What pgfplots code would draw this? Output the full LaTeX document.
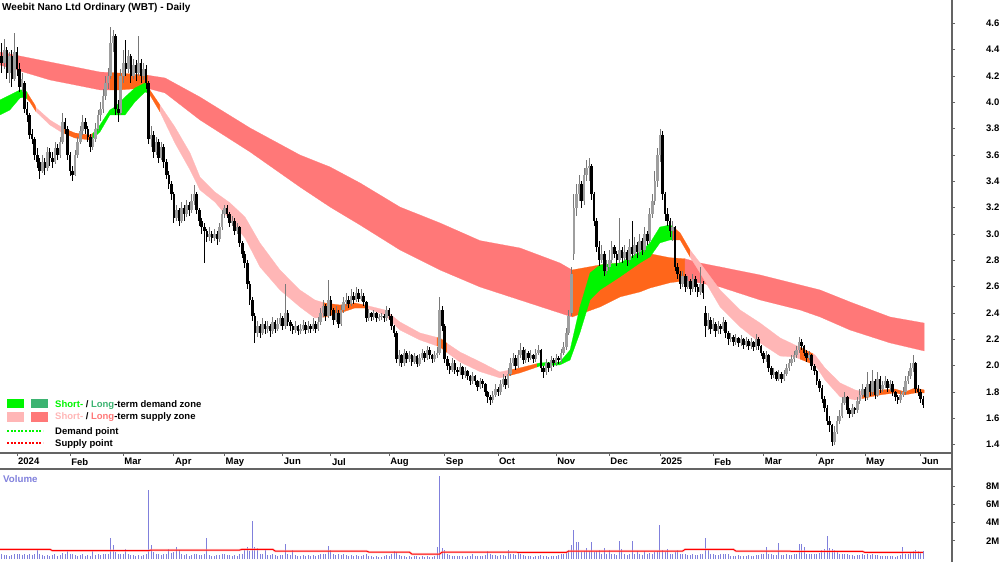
\documentclass[border=0pt]{standalone}
\usepackage{pgfplots}
\pgfplotsset{compat=1.18}
\usepackage{pgfplotstable}
\usepackage{fontspec}
\setmainfont{Liberation Sans}
\definecolor{salmon}{RGB}{255,120,120}
\definecolor{pinkst}{RGB}{255,182,182}
\definecolor{orz}{RGB}{255,102,26}
\definecolor{grz}{RGB}{0,245,0}
\definecolor{dgz}{RGB}{60,179,113}
\definecolor{volc}{RGB}{128,128,220}
\definecolor{axc}{RGB}{100,100,100}
\definecolor{upc}{RGB}{158,158,158}
\definecolor{upw}{RGB}{120,120,120}
\newcommand{\tf}{\fontsize{9.5}{11}\selectfont\bfseries}
\pgfplotsset{zone/.style={fill=#1, draw=#1, line width=0.2pt, mark=none}}
\pgfplotstableread{
i o h l c v
-6 4.35 4.45 4.22 4.30 0.5
-5 4.30 4.48 4.25 4.40 0.4
-4 4.40 4.42 4.18 4.22 0.4
-3 4.22 4.38 4.15 4.35 0.3
-2 4.35 4.40 4.12 4.18 0.4
-1 4.18 4.53 4.16 4.38 0.5
0 4.38 4.42 4.20 4.25 0.6
1 4.25 4.30 4.08 4.12 0.5
2 4.12 4.22 4.08 4.18 0.4
3 4.15 4.16 3.92 3.95 0.5
4 3.95 4.00 3.85 3.90 0.4
5 3.90 3.92 3.72 3.75 0.6
6 3.76 3.80 3.68 3.72 0.4
7 3.72 3.74 3.56 3.60 0.5
8 3.60 3.65 3.50 3.55 1.0
9 3.55 3.58 3.42 3.48 0.6
10 3.48 3.60 3.46 3.55 0.4
11 3.55 3.58 3.45 3.50 0.3
12 3.50 3.66 3.48 3.62 0.4
13 3.62 3.65 3.52 3.58 0.3
14 3.58 3.62 3.50 3.55 0.4
15 3.55 3.70 3.53 3.65 0.5
16 3.65 3.68 3.56 3.60 0.3
17 3.60 3.74 3.58 3.70 0.4
18 3.70 3.92 3.68 3.85 0.7
19 3.85 3.88 3.76 3.80 0.5
20 3.80 3.82 3.56 3.60 1.0
21 3.60 3.62 3.44 3.48 0.6
22 3.48 3.52 3.40 3.45 0.5
23 3.45 3.64 3.44 3.60 0.4
24 3.60 3.74 3.58 3.70 0.3
25 3.70 3.82 3.68 3.78 0.4
26 3.78 3.90 3.75 3.85 0.5
27 3.85 3.88 3.76 3.80 0.3
28 3.80 3.82 3.70 3.74 0.4
29 3.74 3.76 3.62 3.66 0.3
30 3.66 3.76 3.64 3.72 1.0
31 3.72 3.84 3.70 3.80 0.4
32 3.80 3.94 3.78 3.90 0.5
33 3.90 4.00 3.86 3.95 0.4
34 3.95 4.10 3.92 4.05 0.6
35 4.05 4.20 4.02 4.15 0.5
36 4.15 4.26 4.10 4.20 0.6
37 4.20 4.57 4.18 4.45 2.3
38 4.45 4.55 4.38 4.50 1.5
39 4.50 4.52 3.90 3.95 0.8
40 3.95 4.02 3.85 3.92 0.5
41 3.92 4.25 3.90 4.20 0.6
42 4.20 4.40 4.15 4.30 0.5
43 4.30 4.47 4.20 4.25 1.1
44 4.25 4.40 4.22 4.35 0.5
45 4.35 4.37 4.15 4.20 0.4
46 4.20 4.33 4.18 4.28 0.4
47 4.28 4.32 4.16 4.22 0.3
48 4.22 4.50 4.20 4.30 0.4
49 4.30 4.33 4.15 4.20 0.3
50 4.20 4.30 4.17 4.25 0.4
51 4.25 4.28 4.10 4.15 0.5
52 4.15 4.16 3.68 3.72 7.6
53 3.72 3.82 3.66 3.75 1.5
54 3.75 3.78 3.58 3.62 0.8
55 3.62 3.74 3.60 3.70 0.5
56 3.70 3.72 3.54 3.58 0.6
57 3.58 3.70 3.56 3.66 0.4
58 3.66 3.68 3.50 3.55 0.5
59 3.55 3.57 3.42 3.45 0.6
60 3.45 3.48 3.34 3.38 1.1
61 3.38 3.40 3.26 3.30 0.7
62 3.30 3.32 3.08 3.12 0.8
63 3.12 3.22 3.10 3.18 1.3
64 3.18 3.20 3.06 3.10 1.0
65 3.10 3.24 3.08 3.20 0.5
66 3.20 3.22 3.10 3.15 0.4
67 3.15 3.26 3.13 3.22 0.5
68 3.22 3.24 3.14 3.18 0.3
69 3.18 3.30 3.16 3.25 0.4
70 3.25 3.37 3.22 3.30 0.6
71 3.30 3.32 3.15 3.18 0.5
72 3.18 3.20 3.06 3.10 0.4
73 3.10 3.12 3.00 3.05 0.4
74 3.05 3.08 2.78 3.02 0.6
75 3.02 3.04 2.94 2.98 2.3
76 2.98 3.05 2.95 3.00 0.4
77 3.00 3.02 2.93 2.97 0.3
78 2.97 3.04 2.95 3.00 0.3
79 3.00 3.02 2.92 2.96 0.4
80 2.96 3.08 2.94 3.05 0.4
81 3.05 3.18 3.03 3.15 0.5
82 3.15 3.22 3.12 3.20 0.5
83 3.20 3.22 3.12 3.15 0.4
84 3.15 3.17 3.05 3.08 0.4
85 3.08 3.14 3.06 3.10 0.3
86 3.10 3.12 2.99 3.02 0.4
87 3.02 3.08 3.00 3.05 0.3
88 3.05 3.06 2.90 2.93 0.5
89 2.93 2.95 2.82 2.85 0.6
90 2.85 2.87 2.74 2.78 1.1
91 2.78 2.80 2.58 2.62 1.3
92 2.62 2.64 2.46 2.50 0.9
93 2.50 2.52 2.34 2.38 4.2
94 2.38 2.40 2.17 2.25 1.3
95 2.25 2.34 2.22 2.30 1.2
96 2.30 2.32 2.21 2.25 0.6
97 2.25 2.36 2.23 2.32 0.5
98 2.32 2.34 2.24 2.28 1.0
99 2.28 2.34 2.25 2.30 0.4
100 2.30 2.32 2.22 2.26 0.4
101 2.26 2.37 2.24 2.33 0.5
102 2.33 2.35 2.25 2.28 0.4
103 2.28 2.36 2.26 2.32 0.3
104 2.32 2.40 2.30 2.36 0.4
105 2.36 2.38 2.27 2.30 0.4
106 2.30 2.62 2.28 2.40 1.7
107 2.40 2.42 2.30 2.33 0.5
108 2.33 2.35 2.26 2.30 0.4
109 2.30 2.32 2.24 2.27 1.0
110 2.27 2.34 2.25 2.30 0.4
111 2.30 2.31 2.23 2.26 0.3
112 2.26 2.32 2.24 2.28 0.3
113 2.28 2.35 2.26 2.31 0.4
114 2.31 2.33 2.24 2.27 0.3
115 2.27 2.34 2.25 2.30 0.4
116 2.30 2.32 2.25 2.28 0.3
117 2.28 2.36 2.26 2.32 0.4
118 2.32 2.34 2.25 2.28 0.3
119 2.28 2.37 2.26 2.33 0.4
120 2.33 2.44 2.31 2.40 0.5
121 2.40 2.50 2.37 2.45 0.6
122 2.45 2.47 2.34 2.38 0.5
123 2.38 2.65 2.36 2.50 1.4
124 2.50 2.53 2.38 2.42 1.0
125 2.42 2.44 2.31 2.35 0.5
126 2.35 2.45 2.33 2.40 0.4
127 2.40 2.42 2.29 2.32 0.5
128 2.32 2.46 2.30 2.42 0.4
129 2.42 2.52 2.40 2.48 0.5
130 2.48 2.55 2.45 2.50 0.4
131 2.50 2.53 2.44 2.47 0.3
132 2.47 2.58 2.45 2.53 0.4
133 2.53 2.56 2.47 2.50 0.3
134 2.50 2.60 2.48 2.55 0.4
135 2.55 2.58 2.48 2.51 0.3
136 2.51 2.58 2.49 2.53 0.3
137 2.53 2.55 2.45 2.48 0.4
138 2.48 2.49 2.33 2.36 0.6
139 2.36 2.43 2.34 2.40 0.3
140 2.40 2.41 2.34 2.37 0.3
141 2.37 2.42 2.35 2.40 0.2
142 2.40 2.41 2.33 2.36 0.3
143 2.36 2.39 2.34 2.37 0.2
144 2.37 2.40 2.35 2.38 0.2
145 2.38 2.39 2.33 2.36 0.3
146 2.36 2.45 2.34 2.42 0.4
147 2.42 2.44 2.35 2.38 0.3
148 2.38 2.39 2.27 2.30 0.5
149 2.30 2.31 2.22 2.25 0.9
150 2.25 2.26 2.02 2.05 0.8
151 2.05 2.12 2.00 2.08 0.4
152 2.08 2.09 1.99 2.02 0.3
153 2.02 2.13 2.00 2.10 0.3
154 2.10 2.11 2.02 2.05 0.2
155 2.05 2.11 2.03 2.08 0.3
156 2.08 2.09 2.00 2.03 0.2
157 2.03 2.10 2.01 2.07 0.3
158 2.07 2.08 1.99 2.01 0.3
159 2.01 2.09 2.00 2.06 0.2
160 2.06 2.13 2.04 2.10 0.3
161 2.10 2.11 2.03 2.06 0.2
162 2.06 2.15 2.04 2.12 0.3
163 2.12 2.14 2.05 2.08 0.2
164 2.08 2.09 2.02 2.05 0.2
165 2.05 2.11 2.03 2.08 0.3
166 2.08 2.14 2.06 2.10 1.3
167 2.10 2.52 2.08 2.42 9.1
168 2.42 2.45 2.26 2.30 1.2
169 2.30 2.32 2.02 2.05 1.0
170 2.05 2.07 1.97 2.00 0.5
171 2.00 2.02 1.94 1.97 0.4
172 1.97 2.06 1.95 2.02 0.3
173 2.02 2.04 1.94 1.97 0.3
174 1.97 1.99 1.92 1.95 0.3
175 1.95 2.02 1.93 1.99 0.3
176 1.99 2.00 1.90 1.93 0.3
177 1.93 1.99 1.91 1.96 0.2
178 1.96 1.97 1.89 1.92 0.3
179 1.92 1.93 1.85 1.88 0.3
180 1.88 1.95 1.86 1.92 0.5
181 1.92 1.93 1.85 1.88 0.3
182 1.88 1.89 1.81 1.84 0.3
183 1.84 1.91 1.82 1.88 0.3
184 1.88 1.90 1.83 1.86 0.3
185 1.86 1.87 1.77 1.80 0.4
186 1.80 1.81 1.72 1.76 0.9
187 1.76 1.78 1.70 1.74 0.5
188 1.74 1.81 1.72 1.78 0.4
189 1.78 1.86 1.76 1.82 0.4
190 1.82 1.84 1.77 1.80 0.3
191 1.80 1.89 1.78 1.86 0.4
192 1.86 1.94 1.84 1.90 0.4
193 1.90 1.92 1.82 1.85 0.3
194 1.85 1.98 1.83 1.94 1.0
195 1.94 2.06 1.92 2.02 0.6
196 2.02 2.10 2.00 2.06 0.5
197 2.06 2.08 1.97 2.00 0.4
198 2.00 2.12 1.98 2.08 0.8
199 2.08 2.17 2.06 2.12 0.5
200 2.12 2.14 2.01 2.04 0.4
201 2.04 2.13 2.02 2.10 0.3
202 2.10 2.11 2.03 2.06 0.3
203 2.06 2.12 2.04 2.08 0.3
204 2.08 2.09 2.02 2.05 0.2
205 2.05 2.13 2.03 2.10 0.3
206 2.10 2.16 2.08 2.12 0.3
207 2.12 2.13 1.95 1.98 0.4
208 1.98 2.00 1.91 1.95 0.3
209 1.95 2.05 1.93 2.02 0.3
210 2.02 2.03 1.95 1.98 0.2
211 1.98 2.07 1.96 2.04 0.3
212 2.04 2.06 1.99 2.02 0.3
213 2.02 2.09 2.00 2.06 0.3
214 2.06 2.07 2.01 2.04 0.4
215 2.04 2.13 2.02 2.10 0.5
216 2.10 2.18 2.08 2.14 0.6
217 2.14 2.29 2.12 2.25 0.8
218 2.25 2.42 2.23 2.38 1.0
219 2.40 2.75 2.38 2.70 1.5
220 2.85 3.30 2.80 3.20 3.2
221 3.20 3.38 3.14 3.30 1.9
222 3.30 3.45 3.25 3.38 1.9
223 3.38 3.40 3.20 3.25 0.8
224 3.25 3.50 3.22 3.45 0.9
225 3.45 3.56 3.40 3.50 1.2
226 3.50 3.58 3.40 3.52 0.9
227 3.52 3.53 3.26 3.30 1.9
228 3.30 3.32 3.06 3.10 0.8
229 3.10 3.12 2.86 2.90 0.9
230 2.90 2.95 2.76 2.80 1.0
231 2.80 2.92 2.78 2.85 0.6
232 2.85 2.87 2.68 2.72 1.2
233 2.72 2.80 2.70 2.75 0.5
234 2.75 2.88 2.73 2.80 1.0
235 2.80 2.95 2.78 2.90 0.6
236 2.90 2.92 2.82 2.85 0.5
237 2.85 2.87 2.76 2.80 0.4
238 2.80 3.12 2.78 2.88 2.0
239 2.88 2.90 2.78 2.82 1.1
240 2.82 2.92 2.80 2.86 0.5
241 2.86 2.88 2.76 2.80 0.4
242 2.80 2.96 2.78 2.90 0.5
243 2.90 3.10 2.82 2.85 2.0
244 2.85 2.98 2.83 2.92 0.5
245 2.92 2.94 2.82 2.86 0.9
246 2.86 3.00 2.84 2.95 0.5
247 2.95 2.97 2.84 2.88 0.4
248 2.88 3.05 2.86 3.00 0.9
249 3.00 3.02 2.92 2.95 0.5
250 2.95 3.20 2.93 3.15 0.7
251 3.15 3.30 3.12 3.25 0.6
252 3.25 3.48 3.22 3.40 0.8
253 3.40 3.65 3.36 3.60 0.9
254 3.60 3.80 3.55 3.75 3.7
255 3.75 3.78 3.26 3.30 1.0
256 3.30 3.32 3.10 3.15 0.8
257 3.15 3.20 3.06 3.10 1.1
258 3.10 3.12 2.98 3.02 0.6
259 3.02 3.10 2.95 3.05 0.5
260 3.05 3.06 2.72 2.75 0.8
261 2.75 2.78 2.66 2.70 1.0
262 2.70 2.72 2.58 2.62 0.6
263 2.62 2.72 2.60 2.68 0.5
264 2.68 2.70 2.56 2.60 0.5
265 2.60 2.68 2.58 2.64 0.4
266 2.64 2.66 2.54 2.58 0.4
267 2.58 2.70 2.56 2.66 0.5
268 2.66 2.68 2.56 2.60 0.4
269 2.60 2.62 2.52 2.56 0.4
270 2.56 2.75 2.54 2.62 0.5
271 2.62 2.64 2.51 2.55 0.6
272 2.40 2.45 2.22 2.30 2.35
273 2.30 2.40 2.27 2.35 1.0
274 2.35 2.37 2.24 2.28 0.6
275 2.28 2.36 2.26 2.32 0.5
276 2.32 2.33 2.22 2.26 0.4
277 2.26 2.34 2.24 2.30 0.4
278 2.30 2.32 2.24 2.28 0.5
279 2.28 2.37 2.26 2.33 0.5
280 2.33 2.35 2.21 2.25 0.6
281 2.25 2.26 2.16 2.20 0.5
282 2.20 2.25 2.18 2.22 0.3
283 2.22 2.23 2.15 2.18 0.3
284 2.18 2.24 2.16 2.21 0.3
285 2.21 2.22 2.14 2.17 0.4
286 2.17 2.23 2.15 2.20 0.3
287 2.20 2.21 2.13 2.16 0.3
288 2.16 2.22 2.14 2.19 0.3
289 2.19 2.20 2.12 2.15 0.4
290 2.15 2.21 2.13 2.18 0.3
291 2.18 2.19 2.11 2.14 0.3
292 2.14 2.24 2.12 2.20 0.4
293 2.20 2.22 2.12 2.15 0.4
294 2.15 2.16 2.07 2.10 0.5
295 2.10 2.11 2.02 2.05 0.6
296 2.05 2.11 2.03 2.08 1.35
297 2.08 2.09 1.95 1.98 0.5
298 1.98 2.00 1.90 1.93 0.5
299 1.93 1.98 1.91 1.95 0.4
300 1.95 1.96 1.88 1.90 0.4
301 1.90 1.97 1.88 1.94 1.8
302 1.94 1.95 1.87 1.90 0.4
303 1.90 1.97 1.88 1.94 0.4
304 1.94 2.01 1.92 1.98 0.5
305 1.98 2.05 1.96 2.02 0.4
306 2.02 2.08 2.00 2.05 0.4
307 2.05 2.11 2.03 2.08 0.5
308 2.08 2.15 2.06 2.12 0.5
309 2.12 2.22 2.10 2.18 1.6
310 2.18 2.20 2.12 2.15 1.6
311 2.15 2.16 2.07 2.10 1.3
312 2.10 2.12 2.03 2.06 0.6
313 2.06 2.11 2.04 2.08 0.5
314 2.08 2.09 1.97 2.00 0.5
315 2.00 2.01 1.93 1.96 0.5
316 1.96 1.97 1.85 1.88 0.6
317 1.88 1.90 1.80 1.83 0.7
318 1.83 1.85 1.72 1.75 1.0
319 1.75 1.77 1.65 1.68 1.1
320 1.68 1.70 1.55 1.58 2.5
321 1.58 1.62 1.50 1.55 1.2
322 1.55 1.56 1.39 1.42 1.1
323 1.42 1.54 1.40 1.50 1.0
324 1.50 1.62 1.48 1.58 0.9
325 1.58 1.66 1.56 1.62 0.6
326 1.62 1.76 1.60 1.72 0.6
327 1.72 1.80 1.70 1.76 0.5
328 1.76 1.77 1.63 1.66 0.5
329 1.66 1.68 1.60 1.63 0.4
330 1.63 1.71 1.61 1.68 0.4
331 1.68 1.69 1.63 1.66 0.3
332 1.66 1.76 1.64 1.73 0.4
333 1.73 1.82 1.71 1.78 0.4
334 1.78 1.86 1.76 1.82 0.5
335 1.82 1.84 1.73 1.76 0.4
336 1.76 1.95 1.74 1.86 0.5
337 1.86 1.88 1.77 1.80 0.4
338 1.80 1.97 1.78 1.88 0.5
339 1.88 1.90 1.75 1.78 0.4
340 1.78 1.95 1.76 1.90 0.4
341 1.90 1.92 1.79 1.82 0.3
342 1.82 1.88 1.80 1.85 0.3
343 1.85 1.92 1.83 1.88 0.3
344 1.88 1.90 1.80 1.83 0.3
345 1.83 1.89 1.81 1.86 0.3
346 1.86 1.88 1.77 1.80 0.3
347 1.80 1.81 1.73 1.76 0.2
348 1.76 1.78 1.71 1.74 0.3
349 1.74 1.81 1.72 1.78 0.4
350 1.78 1.84 1.76 1.80 1.3
351 1.80 1.92 1.78 1.88 0.5
352 1.88 1.96 1.86 1.92 0.6
353 1.92 2.02 1.90 1.98 0.7
354 1.98 2.08 1.95 2.02 0.9
355 2.02 2.03 1.79 1.82 1.0
356 1.82 1.85 1.77 1.80 0.9
357 1.80 1.82 1.72 1.75 0.8
358 1.75 1.77 1.68 1.70 0.9
}\candles
\pgfplotstableread{
i m
-6.7 1.07
13 1.07
14 0.92
52 0.92
53 0.99
88 0.99
89 1.07
101 1.07
102 0.88
138 0.88
139 0.77
155 0.77
156 0.55
167 0.55
168 0.77
191 0.75
217 0.73
218 0.88
263 0.88
264 1.07
283 1.07
284 0.88
305 0.88
306 0.84
334 0.84
335 0.73
358 0.73
}\volma
\begin{document}
\begin{tikzpicture}
\useasboundingbox (0pt,0pt) rectangle (1000pt,562pt);
\begin{axis}[
  at={(0pt,109pt)}, anchor=south west, scale only axis,
  width=952pt, height=453pt,
  xmin=-6.7, xmax=369.4, ymin=1.337, ymax=4.777,
  axis x line=bottom, axis y line=right,
  axis line style={-, draw=axc, line width=1.2pt},
  xtick={0,21,42,62,82,105,124,147,169,190,213,234,254,275,295,316,335,357},
  xticklabels={2024,Feb,Mar,Apr,May,Jun,Jul,Aug,Sep,Oct,Nov,Dec,2025,Feb,Mar,Apr,May,Jun},
  ytick={1.4,1.6,1.8,2.0,2.2,2.4,2.6,2.8,3.0,3.2,3.4,3.6,3.8,4.0,4.2,4.4,4.6},
  y tick label style={/pgf/number format/fixed, /pgf/number format/fixed zerofill, /pgf/number format/precision=1},
  tick align=outside, major tick length=3pt,
  tick style={draw=axc, line width=0.8pt},
  ticklabel style={font=\tf},
  xticklabel style={anchor=north west, inner sep=0pt, xshift=1pt, yshift=-2pt},
  yticklabel style={anchor=west, inner sep=0pt, xshift=31pt},
  /pgf/number format/assume math mode=true,
]
% ---- long-term zone (upper edge forward, lower edge back)
\addplot[zone=salmon] coordinates {(-6.7,4.382)(13.0,4.306)(32.8,4.230)(36.7,4.226)(36.7,4.094)(32.8,4.094)(13.0,4.170)(-6.7,4.283)};
\addplot[zone=orz] coordinates {(36.7,4.226)(40.7,4.222)(50.6,4.207)(51.8,4.205)(51.8,4.105)(50.6,4.109)(40.7,4.094)(36.7,4.094)};
\addplot[zone=salmon] coordinates {(51.8,4.205)(58.5,4.185)(72.3,4.040)(92.1,3.805)(111.8,3.600)(123.7,3.509)(135.5,3.388)(151.3,3.205)(167.1,3.084)(182.9,2.950)(198.7,2.894)(214.5,2.780)(219.3,2.727)
  (219.3,2.370)(214.5,2.400)(198.7,2.499)(182.9,2.598)(167.1,2.727)(151.3,2.879)(135.5,3.069)(123.7,3.205)(111.8,3.357)(92.1,3.623)(72.3,3.866)(58.5,4.071)(51.8,4.105)};
\addplot[zone=orz] coordinates {(219.3,2.727)(230.3,2.765)(238.2,2.780)(246.1,2.818)(250.1,2.850)(258.0,2.820)(263.9,2.812)
  (263.9,2.645)(258.0,2.630)(250.1,2.590)(246.1,2.560)(238.2,2.522)(230.3,2.446)(219.3,2.370)};
\addplot[zone=salmon] coordinates {(263.9,2.812)(269.9,2.780)(277.8,2.750)(293.6,2.689)(309.4,2.613)(317.3,2.575)(329.1,2.484)(344.9,2.370)(358.4,2.324)
  (358.4,2.112)(344.9,2.173)(329.1,2.271)(317.3,2.370)(309.4,2.423)(293.6,2.499)(277.8,2.598)(269.9,2.628)(263.9,2.645)};
% ---- short-term zone
\addplot[zone=grz] coordinates {(-6.7,4.018)(-2.8,4.056)(1.2,4.094)(3.2,4.094)(4.0,4.075)(4.0,4.025)(3.2,4.040)(1.2,4.033)(-2.8,3.942)(-6.7,3.904)};
\addplot[zone=orz] coordinates {(4.0,4.075)(5.1,4.040)(7.1,3.980)(7.5,3.96)(7.5,3.93)(7.1,3.942)(5.1,4.003)(4.0,4.025)};
\addplot[zone=pinkst] coordinates {(7.5,3.96)(13.0,3.866)(17.8,3.81)(17.8,3.77)(13.0,3.828)(7.5,3.93)};
\addplot[zone=orz] coordinates {(17.8,3.81)(18.2,3.805)(22.9,3.767)(28.8,3.752)(30.0,3.765)(30.0,3.725)(28.8,3.714)(22.9,3.729)(18.2,3.767)(17.8,3.77)};
\addplot[zone=grz] coordinates {(30.0,3.765)(32.8,3.828)(36.7,3.942)(38.7,3.965)(42.7,4.040)(46.6,4.109)(50.6,4.147)(51.8,4.12)
  (51.8,4.07)(50.6,4.078)(46.6,4.003)(42.7,3.904)(38.7,3.904)(36.7,3.904)(32.8,3.775)(30.0,3.725)};
\addplot[zone=orz] coordinates {(51.8,4.12)(52.5,4.094)(56.5,3.980)(56.5,3.927)(52.5,4.056)(51.8,4.07)};
\addplot[zone=pinkst] coordinates {(56.5,3.980)(62.4,3.813)(68.4,3.615)(72.3,3.433)(78.2,3.319)(84.2,3.236)(90.1,3.129)(96.0,2.932)(103.9,2.727)(111.8,2.575)(117.7,2.499)(120.9,2.48)
  (120.9,2.368)(117.7,2.362)(111.8,2.446)(103.9,2.575)(96.0,2.750)(90.1,2.970)(84.2,3.107)(78.2,3.243)(72.3,3.334)(68.4,3.486)(62.4,3.691)(56.5,3.927)};
\addplot[zone=orz] coordinates {(120.9,2.48)(121.7,2.476)(127.6,2.461)(133.5,2.476)(137.5,2.461)(138.7,2.455)(138.7,2.432)(137.5,2.438)(133.5,2.438)(127.6,2.400)(121.7,2.370)(120.9,2.368)};
\addplot[zone=pinkst] coordinates {(138.7,2.455)(145.4,2.423)(151.3,2.332)(159.2,2.249)(165.9,2.215)(165.9,2.15)(159.2,2.195)(151.3,2.271)(145.4,2.385)(138.7,2.432)};
\addplot[zone=orz] coordinates {(165.9,2.215)(167.1,2.211)(169.9,2.17)(169.9,2.10)(167.1,2.142)(165.9,2.15)};
\addplot[zone=pinkst] coordinates {(169.9,2.17)(175.0,2.104)(182.9,2.030)(190.8,1.952)(194.0,1.965)(194.0,1.922)(190.8,1.907)(182.9,1.955)(175.0,2.028)(169.9,2.10)};
\addplot[zone=orz] coordinates {(194.0,1.965)(198.7,1.983)(205.5,2.016)(205.5,1.99)(198.7,1.945)(194.0,1.922)};
\addplot[zone=grz] coordinates {(205.5,2.016)(206.6,2.021)(214.5,2.028)(218.5,2.119)(222.4,2.446)(226.4,2.704)(230.3,2.765)(238.2,2.780)(246.1,2.864)(250.1,2.932)(254.0,3.053)(258.0,3.069)(258.8,3.06)
  (258.8,2.955)(258.0,2.955)(254.0,2.932)(250.1,2.826)(246.1,2.780)(238.2,2.674)(230.3,2.575)(226.4,2.499)(222.4,2.249)(218.5,2.043)(214.5,2.006)(206.6,1.998)(205.5,1.99)};
\addplot[zone=orz] coordinates {(258.8,3.06)(262.0,3.008)(265.9,2.879)(265.9,2.826)(262.0,2.955)(258.8,2.955)};
\addplot[zone=pinkst] coordinates {(265.9,2.879)(269.9,2.780)(277.8,2.575)(285.7,2.423)(293.6,2.324)(301.5,2.211)(307.4,2.157)(309.4,2.14)
  (309.4,2.05)(307.4,2.066)(301.5,2.073)(293.6,2.173)(285.7,2.294)(277.8,2.446)(269.9,2.704)(265.9,2.826)};
\addplot[zone=orz] coordinates {(309.4,2.14)(314.5,2.09)(314.5,2.01)(309.4,2.05)};
\addplot[zone=pinkst] coordinates {(314.5,2.09)(315.3,2.081)(319.2,1.983)(325.2,1.869)(331.1,1.816)(333.9,1.805)(333.9,1.75)(331.1,1.740)(325.2,1.763)(319.2,1.892)(315.3,2.006)(314.5,2.01)};
\addplot[zone=orz] coordinates {(333.9,1.805)(335.0,1.801)(341.0,1.816)(346.9,1.823)(350.8,1.801)(354.8,1.831)(358.4,1.816)
  (358.4,1.793)(354.8,1.793)(350.8,1.778)(346.9,1.793)(341.0,1.778)(335.0,1.755)(333.9,1.75)};
% ---- candles: wicks (up gray, down black); the other kind gets zero length
\addplot[draw=none, mark=none, error bars/.cd, y dir=both, y explicit, error mark=none,
  error bar style={draw=upw, line width=0.8pt}]
  table[x=i, y expr={(\thisrow{h}+\thisrow{l})/2}, y error expr={(1-(\thisrow{c}<\thisrow{o}))*(\thisrow{h}-\thisrow{l})/2}] {\candles};
\addplot[draw=none, mark=none, error bars/.cd, y dir=both, y explicit, error mark=none,
  error bar style={draw=black, line width=0.8pt}]
  table[x=i, y expr={(\thisrow{h}+\thisrow{l})/2}, y error expr={(\thisrow{c}<\thisrow{o})*(\thisrow{h}-\thisrow{l})/2}] {\candles};
% bodies: up = gray, down = solid black
\addplot[draw=none, mark=none, error bars/.cd, y dir=both, y explicit, error mark=none,
  error bar style={draw=upc, line width=2.6pt}]
  table[x=i, y expr={(\thisrow{o}+\thisrow{c})/2}, y error expr={(1-(\thisrow{c}<\thisrow{o}))*max((\thisrow{c}-\thisrow{o})/2,0.005)}] {\candles};
\addplot[draw=none, mark=none, error bars/.cd, y dir=both, y explicit, error mark=none,
  error bar style={draw=black, line width=2.6pt}]
  table[x=i, y expr={(\thisrow{o}+\thisrow{c})/2}, y error expr={(\thisrow{c}<\thisrow{o})*max((\thisrow{o}-\thisrow{c})/2,0.005)}] {\candles};
\end{axis}
\begin{axis}[
  at={(0pt,0pt)}, anchor=south west, scale only axis,
  width=952pt, height=93pt,
  xmin=-6.7, xmax=369.4, ymin=-0.33, ymax=9.92,
  axis x line=top, axis y line=right,
  axis line style={-, draw=axc, line width=1.2pt},
  xtick=\empty,
  ytick={2,4,6,8}, yticklabels={2M,4M,6M,8M},
  tick align=outside, major tick length=3pt,
  tick style={draw=axc, line width=0.8pt},
  ticklabel style={font=\tf},
  yticklabel style={anchor=west, inner sep=0pt, xshift=31pt},
]
\addplot[ycomb, draw=volc, line width=0.9pt, mark=none] table[x=i, y=v] {\candles};
\addplot[draw=red!30, line width=2.5pt, mark=none, opacity=0.6] table[x=i, y=m] {\volma};
\addplot[draw=red, line width=1pt, mark=none] table[x=i, y=m] {\volma};
\end{axis}
\draw[axc, line width=1.2pt] (952pt,92pt) -- (952pt,110pt);
\node[anchor=base west, inner sep=0pt, font=\fontsize{10}{12}\selectfont\bfseries] at (2pt,551pt) {Weebit Nano Ltd Ordinary (WBT) - Daily};
\node[anchor=base west, inner sep=0pt, text=volc, font=\fontsize{9.7}{11}\selectfont\bfseries] at (3pt,80pt) {Volume};
% legend
\fill[grz] (7pt,154pt) rectangle (24pt,163pt);
\fill[dgz] (31pt,154pt) rectangle (48pt,163pt);
\node[anchor=base west, inner sep=0pt, font=\tf] at (55pt,154pt) {\textcolor{grz}{Short-} / \textcolor{dgz}{Long}-term demand zone};
\fill[pinkst] (7pt,140pt) rectangle (24pt,150pt);
\fill[salmon] (31pt,140pt) rectangle (48pt,150pt);
\node[anchor=base west, inner sep=0pt, font=\tf] at (55pt,142pt) {\textcolor{pinkst}{Short-} / \textcolor{salmon}{Long}-term supply zone};
\draw[grz, line width=2pt, dash pattern=on 2pt off 1.6pt] (7pt,131pt) -- (43pt,131pt);
\node[anchor=base west, inner sep=0pt, font=\tf] at (55pt,127.5pt) {Demand point};
\draw[red, line width=2pt, dash pattern=on 2pt off 1.6pt] (7pt,119pt) -- (43pt,119pt);
\node[anchor=base west, inner sep=0pt, font=\tf] at (55pt,115.5pt) {Supply point};
\end{tikzpicture}
\end{document}
